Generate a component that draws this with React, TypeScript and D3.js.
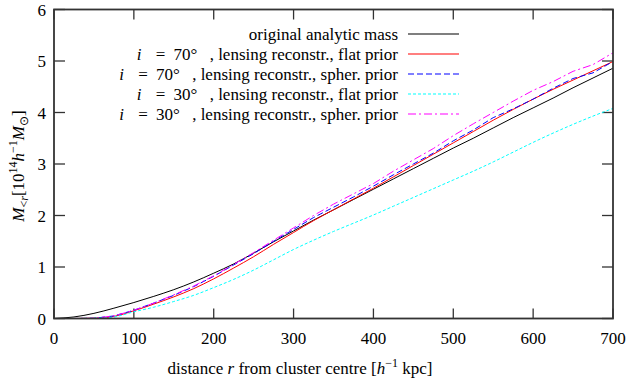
import React from "react";
import * as d3 from "d3";

const rGrid = [0, 25, 50, 75, 100, 125, 150, 175, 200, 225, 250, 275, 300, 325, 350, 375, 400, 425, 450, 475, 500, 525, 550, 575, 600, 625, 650, 675, 700];
const analytic = [0, 0.03, 0.1, 0.2, 0.31, 0.43, 0.56, 0.71, 0.88, 1.06, 1.27, 1.49, 1.7, 1.91, 2.11, 2.31, 2.51, 2.71, 2.91, 3.11, 3.31, 3.5, 3.7, 3.9, 4.09, 4.28, 4.48, 4.67, 4.86];
const i70flat = [0, 0, 0.005, 0.04, 0.15, 0.28, 0.42, 0.58, 0.77, 0.98, 1.2, 1.44, 1.67, 1.9, 2.11, 2.32, 2.53, 2.75, 2.97, 3.19, 3.41, 3.63, 3.85, 4.06, 4.26, 4.45, 4.63, 4.81, 4.99];
const i70spher = [0, 0, 0.005, 0.05, 0.16, 0.3, 0.45, 0.62, 0.82, 1.04, 1.26, 1.5, 1.73, 1.96, 2.16, 2.36, 2.57, 2.79, 3.0, 3.21, 3.45, 3.66, 3.9, 4.07, 4.26, 4.47, 4.66, 4.77, 4.99];
const i30flat = [0, 0, 0.005, 0.03, 0.13, 0.22, 0.33, 0.45, 0.6, 0.76, 0.94, 1.14, 1.34, 1.52, 1.69, 1.85, 2.01, 2.18, 2.35, 2.52, 2.69, 2.86, 3.04, 3.23, 3.42, 3.6, 3.77, 3.93, 4.08];
const i30spher = [0, 0, 0.005, 0.05, 0.16, 0.3, 0.46, 0.63, 0.83, 1.05, 1.28, 1.52, 1.76, 2.0, 2.22, 2.42, 2.62, 2.86, 3.08, 3.3, 3.55, 3.78, 4.0, 4.22, 4.43, 4.6, 4.8, 4.93, 5.16];

const xTicks = [0, 100, 200, 300, 400, 500, 600, 700];
const yTicks = [0, 1, 2, 3, 4, 5, 6];

const inclinations = ["70", "70", "30", "30"];
const priors = ["flat prior", "spher. prior", "flat prior", "spher. prior"];

const FONT = "'Liberation Serif', 'Times New Roman', serif";

export default function App() {
  const W = 627, H = 380;
  const left = 54, right = 613, top = 9.5, bottom = 318.5;
  const x = d3.scaleLinear().domain([0, 700]).range([left, right]);
  const y = d3.scaleLinear().domain([0, 6]).range([bottom, top]);

  const series = [
    { vals: analytic, color: "#000000", dash: "", smooth: true },
    { vals: i70flat, color: "#ff0000", dash: "", smooth: true },
    { vals: i70spher, color: "#0000ff", dash: "6,3", smooth: false },
    { vals: i30flat, color: "#00ffff", dash: "3,2", smooth: true },
    { vals: i30spher, color: "#ff00ff", dash: "8,3,2,3", smooth: false },
  ];

  const lineFor = (smooth: boolean) =>
    d3
      .line<number>()
      .x((_, i) => x(rGrid[i]))
      .y((d) => y(d))
      .curve(smooth ? d3.curveMonotoneX : d3.curveLinear);

  const axisColor = "#333";
  const legendTextX = 398;
  const legendLineX1 = 408, legendLineX2 = 459;
  const legendRows = [34, 54, 74, 94, 114];
  const fs = 17;
  const txt = { fontFamily: FONT };

  return (
    <svg width={W} height={H} style={{ position: "absolute", left: 0, top: 0, background: "#fff", fontFamily: FONT }}>
      <rect x={0} y={0} width={W} height={H} fill="#fff" />
      <defs>
        <clipPath id="plotclip">
          <rect x={left} y={top} width={right - left} height={bottom - top} />
        </clipPath>
      </defs>
      {xTicks.map((t) => (
        <g key={"xt" + t}>
          <line x1={x(t)} x2={x(t)} y1={bottom} y2={bottom - 10} stroke={axisColor} strokeWidth={1.3} />
          <line x1={x(t)} x2={x(t)} y1={top} y2={top + 10} stroke={axisColor} strokeWidth={1.3} />
          <text x={x(t)} y={343.5} fontSize={fs} textAnchor="middle" fill="#000" style={txt}>{t}</text>
        </g>
      ))}
      {yTicks.map((t) => (
        <g key={"yt" + t}>
          <line x1={left} x2={left + 11} y1={y(t)} y2={y(t)} stroke={axisColor} strokeWidth={1.3} />
          <line x1={right} x2={right - 11} y1={y(t)} y2={y(t)} stroke={axisColor} strokeWidth={1.3} />
          <text x={46} y={y(t) + 6} fontSize={fs} textAnchor="end" fill="#000" style={txt}>{t}</text>
        </g>
      ))}
      <g clipPath="url(#plotclip)">
        {series.map((s, i) => (
          <path key={i} d={lineFor(s.smooth)(s.vals) || ""} fill="none" stroke={s.color} strokeWidth={1} strokeDasharray={s.dash} />
        ))}
      </g>
      <rect x={left} y={top} width={right - left} height={bottom - top} fill="none" stroke={axisColor} strokeWidth={1.8} />
      {series.map((s, i) => (
        <g key={"lg" + i}>
          <line x1={legendLineX1} x2={legendLineX2} y1={legendRows[i]} y2={legendRows[i]} stroke={s.color} strokeWidth={1.2} strokeDasharray={s.dash} />
          <text x={legendTextX} y={legendRows[i] + 5.5} fontSize={fs} textAnchor="end" fill="#000" style={txt}>
            {i === 0 ? (
              "original analytic mass"
            ) : (
              <>
                <tspan fontStyle="italic">i</tspan>
                <tspan dx={10}>{" ="}</tspan>
                <tspan dx={4}>{" " + inclinations[i - 1] + "°"}</tspan>
                <tspan dx={8}>{" , lensing reconstr., " + priors[i - 1]}</tspan>
              </>
            )}
          </text>
        </g>
      ))}
      <text x={300} y={374} fontSize={fs} textAnchor="middle" fill="#000" style={txt}>
        distance <tspan fontStyle="italic">r</tspan> from cluster centre [<tspan fontStyle="italic">h</tspan>
        <tspan fontSize={12} dy={-7}>−1</tspan>
        <tspan dy={7}> kpc]</tspan>
      </text>
      <text transform="translate(24,166) rotate(-90)" fontSize={fs} textAnchor="middle" fill="#000" style={txt}>
        <tspan fontStyle="italic">M</tspan>
        <tspan fontSize={12} dy={4}>&lt;</tspan>
        <tspan fontSize={12} fontStyle="italic">r</tspan>
        <tspan dy={-4}>[10</tspan>
        <tspan fontSize={12} dy={-7}>14</tspan>
        <tspan fontStyle="italic" dy={7}>h</tspan>
        <tspan fontSize={12} dy={-7}>−1</tspan>
        <tspan fontStyle="italic" dy={7}>M</tspan>
        <tspan fontSize={12} dy={4}>⊙</tspan>
        <tspan dy={-4}>]</tspan>
      </text>
    </svg>
  );
}
